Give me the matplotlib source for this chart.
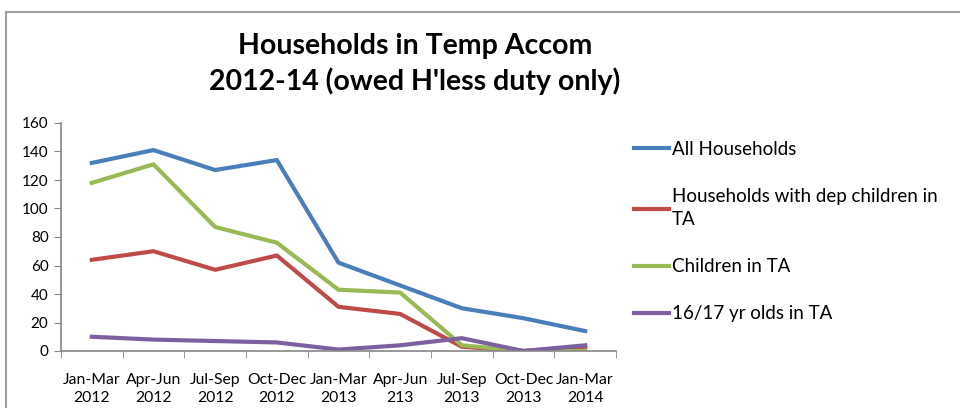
import numpy as np
import matplotlib.pyplot as plt
from matplotlib.patches import Rectangle

plt.rcParams['font.family'] = ['Lato', 'DejaVu Sans']

periods = ["Jan-Mar\n2012", "Apr-Jun\n2012", "Jul-Sep\n2012", "Oct-Dec\n2012",
           "Jan-Mar\n2013", "Apr-Jun\n213", "Jul-Sep\n2013", "Oct-Dec\n2013",
           "Jan-Mar\n2014"]
all_households = [132, 141, 127, 134, 62, 46, 30, 23, 14]
dep_children_households = [64, 70, 57, 67, 31, 26, 3, 0, 3]
children = [118, 131, 87, 76, 43, 41, 4, 0, 0]
young_people = [10, 8, 7, 6, 1, 4, 9, 0, 4]

series = [
    ("All Households", all_households, "#4a7ebb"),
    ("Households with dep children in\nTA", dep_children_households, "#be4b48"),
    ("Children in TA", children, "#98b954"),
    ("16/17 yr olds in TA", young_people, "#7d60a0"),
]

fig = plt.figure(figsize=(9.6, 4.08), dpi=100)
ax = fig.add_axes([61/960, 1 - 351/408, 555/960, 228/408])

x = np.arange(len(periods))
for name, vals, col in series:
    ax.plot(x, vals, color=col, lw=3, label=name, solid_joinstyle='round')

ax.set_xlim(-0.5, len(periods) - 0.5)
ax.set_ylim(0, 160)
ax.set_yticks(range(0, 161, 20))
ax.set_xticks(x)
ax.set_xticklabels(periods, fontsize=11.3, linespacing=1.3)
ax.set_xticks(np.arange(-0.5, len(periods), 1), minor=True)
ax.tick_params(axis='x', which='major', length=0, pad=16)
ax.tick_params(axis='x', which='minor', length=5, color='#868686', direction='out')
ax.tick_params(axis='y', length=5, color='#868686', labelsize=11, pad=4)
for s in ['top', 'right']:
    ax.spines[s].set_visible(False)
for s in ['left', 'bottom']:
    ax.spines[s].set_color('#868686')
    ax.spines[s].set_linewidth(1.2)

leg = fig.legend(loc='upper left', bbox_to_anchor=(634/960, 1 - 141/408),
                 frameon=False, fontsize=13.5, handlelength=1.85, borderpad=0,
                 borderaxespad=0, handletextpad=0.15, labelspacing=1.6)
for ln in leg.get_lines():
    ln.set_linewidth(3)
for t in leg.get_texts():
    t.set_linespacing(1.45)

fig.text(415/960, 1 - 46/408, "Households in Temp Accom", ha='center', va='center',
         fontsize=20.5, fontweight='bold')
fig.text(415/960, 1 - 81/408, "2012-14 (owed H'less duty only)", ha='center',
         va='center', fontsize=20.5, fontweight='bold')

fig.add_artist(Rectangle((6/960, -0.1), 1.1, 1 - 12/408 + 0.1, transform=fig.transFigure,
                         fill=False, edgecolor='#a0a0a0', lw=1.5))

fig.savefig("out.png", dpi=100)
